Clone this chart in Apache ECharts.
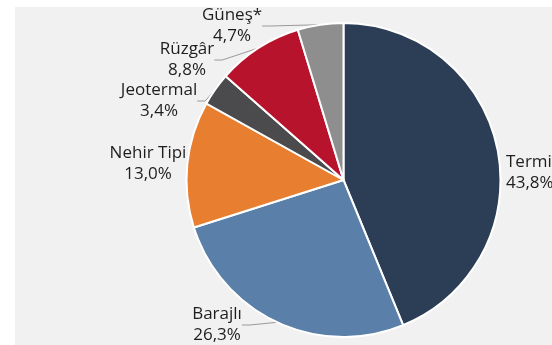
<!DOCTYPE html>
<html>
<head>
<meta charset="utf-8">
<script src="https://cdn.jsdelivr.net/npm/echarts@6/dist/echarts.min.js"></script>
<style>
  html, body { margin: 0; padding: 0; background: #ffffff; }
  #chart { width: 552px; height: 345px; }
</style>
</head>
<body>
<div id="chart"></div>
<script>
// Electricity generation shares by source (%)
const categories = ['Termik', 'Barajlı', 'Nehir Tipi', 'Jeotermal', 'Rüzgâr', 'Güneş*'];
const shares = [43.8, 26.3, 13.0, 3.4, 8.8, 4.7];
const colors = ['#2b3e55', '#5a7fa8', '#e87e2f', '#4b4b4d', '#b8132c', '#8e8e8e'];

// Label block placement (centre of the two-line label) and whether a leader line is drawn
const labelSpots = [
  { x: 506, y: 173, align: 'left', line: false },
  { x: 217, y: 325, align: 'center', line: true },
  { x: 148, y: 164, align: 'center', line: false },
  { x: 159, y: 101, align: 'center', line: true },
  { x: 187, y: 60, align: 'center', line: true },
  { x: 232, y: 26, align: 'center', line: true }
];

const fmt = v => v.toFixed(1).replace('.', ',') + '%';

const chart = echarts.init(document.getElementById('chart'), null, { renderer: 'canvas' });

chart.setOption({
  animation: false,
  backgroundColor: '#ffffff',
  graphic: [{
    type: 'rect',
    z: -10,
    silent: true,
    shape: { x: 15, y: 7, width: 537, height: 338 },
    style: { fill: '#f1f1f1' }
  }],
  series: [{
    type: 'pie',
    center: [343.5, 180],
    radius: 157,
    startAngle: 90,
    clockwise: true,
    avoidLabelOverlap: false,
    itemStyle: { borderColor: '#ffffff', borderWidth: 2 },
    label: {
      show: true,
      position: 'outside',
      fontFamily: 'Open Sans',
      fontSize: 17,
      lineHeight: 21,
      color: '#1e1e1e',
      formatter: p => p.name + '\n' + fmt(p.value)
    },
    labelLine: {
      show: true,
      length: 8,
      length2: 8,
      lineStyle: { color: '#9a9a9a', width: 1 }
    },
    labelLayout: p => {
      const s = labelSpots[p.dataIndex];
      return { x: s.x, y: s.y, align: s.align, verticalAlign: 'middle' };
    },
    data: categories.map((name, i) => ({
      name: name,
      value: shares[i],
      itemStyle: { color: colors[i] },
      labelLine: { show: labelSpots[i].line }
    }))
  }]
});
</script>
</body>
</html>
